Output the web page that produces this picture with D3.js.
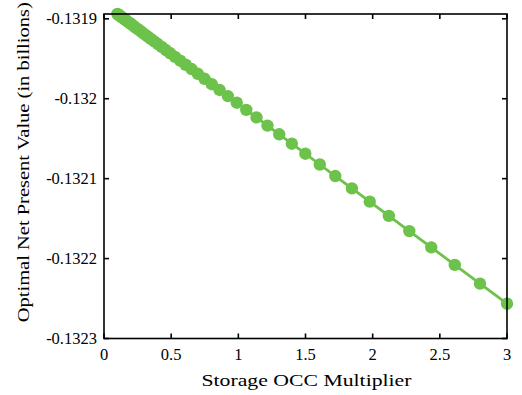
<!DOCTYPE html>
<html>
<head>
<meta charset="utf-8">
<script src="https://cdn.jsdelivr.net/npm/d3@7"></script>
<style>
  body { margin: 0; background: #fff; }
</style>
</head>
<body>
<svg id="chart" width="522" height="395"></svg>
<script>
const multipliers = [
  0.1, 0.1072, 0.1149, 0.1232, 0.1320, 0.1415, 0.1517, 0.1626, 0.1742, 0.1868,
  0.2002, 0.2146, 0.2300, 0.2465, 0.2643, 0.2833, 0.3036, 0.3254, 0.3488, 0.3739,
  0.4008, 0.4296, 0.4605, 0.4936, 0.5291, 0.5671, 0.6078, 0.6515, 0.6984, 0.7486,
  0.8024, 0.8601, 0.9219, 0.9881, 1.0592, 1.1353, 1.2169, 1.3044, 1.3981, 1.4986,
  1.6063, 1.7218, 1.8456, 1.9782, 2.1204, 2.2728, 2.4362, 2.6113, 2.7990, 3.0
];
const npv = [
  -0.1318940, -0.1318949, -0.1318959, -0.1318969, -0.1318980, -0.1318992, -0.1319005, -0.1319018, -0.1319033, -0.1319048,
  -0.1319065, -0.1319083, -0.1319103, -0.1319123, -0.1319145, -0.1319169, -0.1319195, -0.1319222, -0.1319251, -0.1319282,
  -0.1319316, -0.1319352, -0.1319391, -0.1319432, -0.1319476, -0.1319524, -0.1319575, -0.1319629, -0.1319688, -0.1319751,
  -0.1319818, -0.1319890, -0.1319967, -0.1320050, -0.1320139, -0.1320234, -0.1320336, -0.1320445, -0.1320563, -0.1320688,
  -0.1320823, -0.1320967, -0.1321122, -0.1321288, -0.1321466, -0.1321656, -0.1321860, -0.1322079, -0.1322314, -0.1322565
];
const xTicks = [0, 0.5, 1, 1.5, 2, 2.5, 3];
const xTickLabels = ["0", "0.5", "1", "1.5", "2", "2.5", "3"];
const yTicks = [-0.1323, -0.1322, -0.1321, -0.132, -0.1319];
const yTickLabels = ["-0.1323", "-0.1322", "-0.1321", "-0.132", "-0.1319"];

(() => {
  const svg = d3.select("#chart")
    .attr("font-family", "'Liberation Serif', 'DejaVu Serif', serif");
  const pLeft = 104, pRight = 507, pTop = 14, pBottom = 338.5;
  const green = "#6cc24a";

  const x = d3.scaleLinear().domain([0, 3]).range([pLeft, pRight]);
  const y = d3.scaleLinear().domain([-0.1323, -0.131894]).range([pBottom, pTop]);

  // data line + markers
  const line = d3.line().x((d, i) => x(multipliers[i])).y(d => y(d));
  svg.append("path").datum(npv)
    .attr("fill", "none").attr("stroke", green).attr("stroke-width", 2.8).attr("d", line);

  svg.append("g").selectAll("circle").data(npv).join("circle")
    .attr("cx", (d, i) => x(multipliers[i])).attr("cy", d => y(d))
    .attr("r", 6.2).attr("fill", green);

  // box + inward ticks
  const tl = 5;
  const axes = svg.append("g").attr("stroke", "#000").attr("stroke-width", 1.6);
  axes.append("rect")
    .attr("x", pLeft).attr("y", pTop).attr("width", pRight - pLeft).attr("height", pBottom - pTop)
    .attr("fill", "none");

  xTicks.forEach(t => {
    axes.append("line").attr("x1", x(t)).attr("x2", x(t)).attr("y1", pBottom).attr("y2", pBottom - tl);
    axes.append("line").attr("x1", x(t)).attr("x2", x(t)).attr("y1", pTop).attr("y2", pTop + tl);
  });
  yTicks.forEach(t => {
    axes.append("line").attr("x1", pLeft).attr("x2", pLeft + tl).attr("y1", y(t)).attr("y2", y(t));
    axes.append("line").attr("x1", pRight).attr("x2", pRight - tl).attr("y1", y(t)).attr("y2", y(t));
  });

  // tick labels
  svg.append("g").selectAll("text").data(xTicks).join("text")
    .attr("x", d => x(d)).attr("y", pBottom + 21)
    .attr("text-anchor", "middle").attr("font-size", 16.5)
    .text((d, i) => xTickLabels[i]);

  svg.append("g").selectAll("text").data(yTicks).join("text")
    .attr("x", pLeft - 7).attr("y", d => y(d) + 5.5)
    .attr("text-anchor", "end").attr("font-size", 16.5)
    .text((d, i) => yTickLabels[i]);

  // axis titles
  svg.append("text")
    .attr("x", (pLeft + pRight) / 2 + 1).attr("y", 386)
    .attr("text-anchor", "middle").attr("font-size", 17.5)
    .attr("textLength", 210).attr("lengthAdjust", "spacingAndGlyphs")
    .text("Storage OCC Multiplier");

  svg.append("text")
    .attr("transform", `translate(29, ${(pTop + pBottom) / 2 - 14}) rotate(-90)`)
    .attr("text-anchor", "middle").attr("font-size", 17.5)
    .attr("textLength", 320).attr("lengthAdjust", "spacingAndGlyphs")
    .text("Optimal Net Present Value (in billions)");
})();
</script>
</body>
</html>
